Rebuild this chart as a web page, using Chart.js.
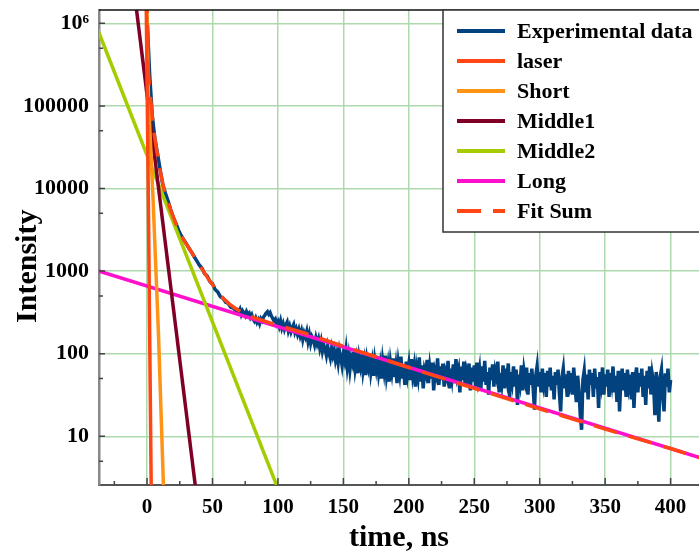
<!DOCTYPE html>
<html>
<head>
<meta charset="utf-8">
<script src="https://cdn.jsdelivr.net/npm/chart.js@4.4.0/dist/chart.umd.min.js"></script>
<style>
  html, body { margin: 0; padding: 0; background: #fff; }
</style>
</head>
<body>
<canvas id="decayChart" width="699" height="556"></canvas>
<script>
// time axis (ns) and intensity axis (log)
const xMin = -36.7, xMax = 421.7;
const yMin = 2.57, yMax = 1.449e6;
const xTicks = [0, 50, 100, 150, 200, 250, 300, 350, 400];
const xMinorTicks = [-25, 25, 75, 125, 175, 225, 275, 325, 375];
const yTicks = [10, 100, 1000, 10000, 100000, 1000000];
const yTickLabels = ['10', '100', '1000', '10000', '100000', '10⁶'];
const yMinorTicks = [5, 50, 500, 5000, 50000, 500000];

// experimental data: every 2 ns from 0 to 68 ns ...
const expHeadStart = 0, expHeadStep = 2;
const expHead = [
  1200000, 240000, 76000, 40000, 26500, 17000, 11200, 8800, 7100, 5600,
  4500, 3800, 3150, 2700, 2400, 2150, 1900, 1700, 1500, 1330,
  1180, 1080, 930, 870, 750, 700, 600, 560, 490, 470,
  420, 405, 365, 355, 330
];
// ... then every 1 ns from 69 to 400 ns
const expTailStart = 69, expTailStep = 1;
const expTail = [
  338, 320, 345, 300, 330, 312, 290, 322, 298, 310, 275, 295,
  262, 248, 270, 240, 258, 232, 265, 250, 278, 292, 310, 322,
  300, 315, 285, 268, 250, 262, 228, 245,
  215, 248, 205, 230, 198, 222, 240, 190, 215, 185, 208, 225, 182, 200, 172,
  195, 165, 188, 150, 178, 160, 185, 142, 170, 135, 160, 148, 128, 155, 132,
  150, 118, 140, 108, 128, 115, 96, 122, 102, 88, 115, 95, 110, 84, 100, 78, 108, 90, 72, 98,
  82, 110, 70, 92, 64, 88, 76, 105, 66, 84, 58, 90, 72, 98, 62, 80, 55, 86, 70, 95, 60, 78, 54, 84, 66,
  90, 58, 74, 50, 82, 62, 95, 55, 72, 46, 78, 60, 88, 52, 70, 44, 76, 58, 92, 50, 68, 42, 80, 56, 74,
  48, 86, 55, 70, 40, 66, 52, 90, 46, 72,
  38, 64, 56, 84, 44, 68, 50, 78, 36, 62,
  54, 88, 42, 70, 48, 76, 40, 60, 52, 82,
  38, 66, 50, 74, 44, 86, 54, 64, 34, 70,
  48, 80, 42, 62, 52, 76, 36, 68, 46, 72,
  40, 78, 50, 64, 36, 70, 46, 82, 42, 60,
  32, 68, 48, 74, 40, 62, 52, 80, 34, 58,
  44, 72, 38, 66, 50, 76, 30, 60, 46, 70,
  40, 64, 24, 56, 44, 72, 36, 62, 48, 68,
  32, 58, 42, 66, 38, 21, 54, 70, 40, 60,
  34, 66, 44, 58, 30, 62, 40, 68, 36, 54,
  28, 60, 42, 64, 34, 20, 52, 66, 38, 56,
  30, 62, 44, 58, 32, 68, 40, 26, 54, 36,
  18, 12, 48, 62, 34, 56, 28, 64, 42, 58,
  30, 66, 38, 52, 22, 60, 44, 68, 32, 56,
  40, 64, 30, 58, 44, 70, 34, 54, 26, 62,
  20, 48, 66, 36, 58, 30, 64, 42, 56, 28,
  60, 22, 50, 68, 34, 58, 40, 66, 30, 54,
  24, 62, 38, 70, 32, 56, 44, 18, 60, 36,
  15, 52, 64, 30, 20, 58, 40, 66, 34, 48
];

// fit components
const laserT = [-0.6, 1.0, 3.2];
const laserY = [1.6e6, 7350, 2.2];
const shortT = [-0.1, 1.1, 4.6, 8.7, 12.8];
const shortY = [1.6e6, 1.2e5, 7400, 180, 1.86];
const middle1T = [-10, 40];
const middle1Y = [2.6e6, 1.0];
const middle2T = [-40, 102];
const middle2Y = [1.04e6, 1.93];
const longT = [-40, 425];
const longY = [1035, 5.35];
const fitT = [-0.5, 0.5, 1, 2, 2.8, 4, 5.5, 7.3, 10, 12.5, 15.5, 18, 21.4, 25, 29, 33.5, 37, 40.6,
  44, 48.2, 53, 58, 63, 68.7, 78.9, 94, 119.7, 150.3, 200, 250, 300, 350, 400, 425];
const fitY = [2.6e6, 6.5e5, 2.6e5, 1.6e5, 1.19e5, 7.5e4, 4.5e4, 2.96e4, 1.65e4, 1.05e4, 7350, 5500, 3980, 2900, 2240, 1740, 1410, 1150,
  945, 750, 590, 473, 398, 343, 282, 236, 179, 123, 68, 38, 21.5, 12.2, 7.1, 5.35];

const pts = (xs, ys) => xs.map((x, i) => ({ x: x, y: ys[i] }));
const expPoints = expHead.map((v, i) => ({ x: expHeadStart + i * expHeadStep, y: v }))
  .concat(expTail.map((v, i) => ({ x: expTailStart + i * expTailStep, y: v })));

const serif = '"Liberation Serif", "Times New Roman", serif';
const gridGreen = '#addaad';

// inward tick marks and top frame line
const axisDeco = {
  id: 'axisDeco',
  afterDatasetsDraw(chart) {
    const { ctx, chartArea: a, scales: { x, y } } = chart;
    ctx.save();
    ctx.strokeStyle = '#444';
    ctx.lineWidth = 1.5;
    ctx.beginPath();
    xTicks.forEach(v => { const px = x.getPixelForValue(v); ctx.moveTo(px, a.bottom); ctx.lineTo(px, a.bottom - 7); });
    xMinorTicks.forEach(v => { const px = x.getPixelForValue(v); ctx.moveTo(px, a.bottom); ctx.lineTo(px, a.bottom - 4); });
    yTicks.forEach(v => { const py = y.getPixelForValue(v); ctx.moveTo(a.left, py); ctx.lineTo(a.left + 6, py); });
    yMinorTicks.forEach(v => {
      if (v < yMin) return;
      const py = y.getPixelForValue(v); ctx.moveTo(a.left, py); ctx.lineTo(a.left + 4, py);
    });
    ctx.stroke();
    ctx.strokeStyle = '#111';
    ctx.beginPath();
    ctx.moveTo(a.left, a.top);
    ctx.lineTo(a.right, a.top);
    ctx.stroke();
    ctx.restore();
  }
};

// boxed legend in the top right corner
const boxLegend = {
  id: 'boxLegend',
  afterDraw(chart) {
    const ctx = chart.ctx;
    const x0 = 443, y0 = 10, w = 270, h = 222;
    ctx.save();
    ctx.fillStyle = '#fff';
    ctx.fillRect(x0, y0, w, h);
    ctx.strokeStyle = '#333';
    ctx.lineWidth = 1.5;
    ctx.strokeRect(x0, y0, w, h);
    ctx.font = 'bold 22px ' + serif;
    ctx.textBaseline = 'middle';
    chart.data.datasets.forEach((ds, i) => {
      const ly = 31 + i * 30;
      ctx.strokeStyle = ds.borderColor;
      ctx.lineWidth = 4;
      ctx.setLineDash(ds.borderDash || []);
      ctx.beginPath();
      ctx.moveTo(457, ly);
      ctx.lineTo(505, ly);
      ctx.stroke();
      ctx.setLineDash([]);
      ctx.fillStyle = '#000';
      ctx.fillText(ds.label, 517, ly + 1);
    });
    ctx.restore();
  }
};

const ctx = document.getElementById('decayChart').getContext('2d');
new Chart(ctx, {
  type: 'line',
  data: {
    datasets: [
      { label: 'Experimental data', data: expPoints, borderColor: '#02437f', borderWidth: 3.5, order: 7 },
      { label: 'laser', data: pts(laserT, laserY), borderColor: '#ff4614', borderWidth: 3.5, order: 2 },
      { label: 'Short', data: pts(shortT, shortY), borderColor: '#ff9316', borderWidth: 3.5, order: 3 },
      { label: 'Middle1', data: pts(middle1T, middle1Y), borderColor: '#800025', borderWidth: 3.5, order: 4 },
      { label: 'Middle2', data: pts(middle2T, middle2Y), borderColor: '#a5cc00', borderWidth: 3.5, order: 5 },
      { label: 'Long', data: pts(longT, longY), borderColor: '#ff10cc', borderWidth: 3.5, order: 6 },
      { label: 'Fit Sum', data: pts(fitT, fitY), borderColor: '#ff4614', borderWidth: 3.5, borderDash: [24, 12], order: 1 }
    ]
  },
  options: {
    responsive: false,
    animation: false,
    parsing: false,
    layout: { padding: { top: 10, right: 0, bottom: 0, left: 0 } },
    elements: { point: { radius: 0 }, line: { tension: 0, fill: false } },
    datasets: { line: { clip: 0 } },
    plugins: { legend: { display: false }, tooltip: { enabled: false } },
    scales: {
      x: {
        type: 'linear',
        min: xMin,
        max: xMax,
        afterBuildTicks: s => { s.ticks = xTicks.map(v => ({ value: v })); },
        afterFit: s => { s.height = 71; s.paddingLeft = 0; s.paddingRight = 0; },
        grid: { color: gridGreen, lineWidth: 1.5, drawTicks: false },
        border: { color: '#555', width: 2 },
        ticks: { color: '#000', padding: 10, font: { family: serif, size: 21, weight: 'bold' }, callback: v => String(v) },
        title: { display: true, text: 'time, ns', color: '#000', padding: 0, font: { family: serif, size: 30, weight: 'bold', lineHeight: 1.2 } }
      },
      y: {
        type: 'logarithmic',
        min: yMin,
        max: yMax,
        afterBuildTicks: s => { s.ticks = yTicks.map(v => ({ value: v })); },
        afterFit: s => { s.width = 99; s.paddingTop = 0; s.paddingBottom = 0; },
        grid: { color: gridGreen, lineWidth: 1.5, drawTicks: false },
        border: { color: '#888', width: 2.5 },
        ticks: {
          color: '#000', padding: 10, font: { family: serif, size: 22, weight: 'bold' },
          callback: v => { const k = yTicks.indexOf(v); return k >= 0 ? yTickLabels[k] : ''; }
        },
        title: { display: true, text: 'Intensity\u00a0\u00a0\u00a0\u00a0\u00a0', color: '#000', padding: { top: 10, bottom: 0 }, font: { family: serif, size: 30, weight: 'bold', lineHeight: 1.2 } }
      }
    }
  },
  plugins: [axisDeco, boxLegend]
});
</script>
</body>
</html>
